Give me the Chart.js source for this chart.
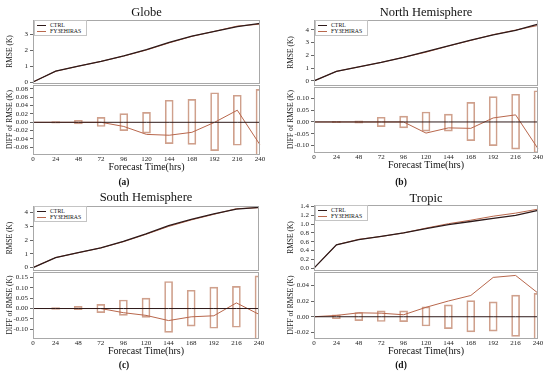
<!DOCTYPE html>
<html>
<head>
<meta charset="utf-8">
<script src="https://cdn.jsdelivr.net/npm/chart.js@4.4.1/dist/chart.umd.min.js"></script>
<style>
  body { margin: 0; width: 550px; height: 377px; background: #fff; position: relative; overflow: hidden;
         font-family: 'Liberation Serif', 'Times New Roman', serif; color: #111; }
  canvas { position: absolute; }
  .ttl { position: absolute; font-size: 12.5px; transform: translate(-50%, -50%); white-space: nowrap; }
  .tag { position: absolute; font-size: 9.5px; font-weight: bold; transform: translate(-50%, -50%); }
  .lgd { position: absolute; border: 1px solid #c4c4c4; background: #fff; font-size: 5.8px; line-height: 6px;
         padding: 1px 5px 1px 2px; white-space: nowrap; color: #111; }
  .lgd i { display: inline-block; width: 9px; border-top: 1px solid; vertical-align: middle; margin-right: 4px; }
</style>
</head>
<body>
<script>
const FONT = "'Liberation Serif', 'Times New Roman', serif";
const CTRL_COLOR = '#2e1a1a';
const FY_COLOR = '#b8674c';
const BOX_COLOR = '#cfa08c';

// Data
const hours = ['0', '24', '48', '72', '96', '120', '144', '168', '192', '216', '240'];
const zeroDiff = [0, 0, 0, 0, 0, 0, 0, 0, 0, 0, 0];

// Globe
const globeCtrl = [0, 0.68, 1.0, 1.3, 1.65, 2.05, 2.5, 2.9, 3.2, 3.5, 3.7];
const globeFy3e = [0, 0.68, 1.0, 1.3, 1.64, 2.02, 2.47, 2.88, 3.2, 3.53, 3.65];
const globeDiff = [0, 0, 0, 0, -0.01, -0.029, -0.031, -0.024, 0.0, 0.029, -0.054];
const globeBoxLo = [null, -0.002, -0.004, -0.01, -0.02, -0.026, -0.051, -0.053, -0.068, -0.055, -0.08];
const globeBoxHi = [null, 0.002, 0.005, 0.012, 0.021, 0.024, 0.053, 0.055, 0.071, 0.065, 0.079];
const globeRmseTicks = [0, 1, 2, 3];
const globeDiffTicks = [-0.06, -0.04, -0.02, 0, 0.02, 0.04, 0.06, 0.08];

// North Hemisphere
const northCtrl = [0, 0.75, 1.1, 1.45, 1.85, 2.3, 2.75, 3.2, 3.6, 3.95, 4.45];
const northFy3e = [0, 0.75, 1.1, 1.45, 1.85, 2.25, 2.73, 3.17, 3.62, 3.98, 4.34];
const northDiff = [0, 0, 0, 0, 0, -0.047, -0.025, -0.027, 0.017, 0.03, -0.113];
const northBoxLo = [null, -0.003, -0.005, -0.02, -0.025, -0.039, -0.039, -0.079, -0.1, -0.115, -0.13];
const northBoxHi = [null, 0.003, 0.005, 0.02, 0.025, 0.042, 0.033, 0.083, 0.107, 0.117, 0.132];
const northRmseTicks = [0, 1, 2, 3, 4];
const northDiffTicks = [-0.10, -0.05, 0, 0.05, 0.10];

// South Hemisphere
const southCtrl = [0, 0.73, 1.08, 1.43, 1.9, 2.45, 3.05, 3.5, 3.9, 4.25, 4.38];
const southFy3e = [0, 0.73, 1.08, 1.43, 1.88, 2.42, 2.99, 3.46, 3.87, 4.28, 4.35];
const southDiff = [0, 0, 0, 0, -0.02, -0.033, -0.058, -0.04, -0.035, 0.027, -0.028];
const southBoxLo = [null, -0.004, -0.006, -0.02, -0.033, -0.043, -0.115, -0.085, -0.095, -0.09, -0.16];
const southBoxHi = [null, 0.004, 0.01, 0.02, 0.041, 0.05, 0.13, 0.088, 0.103, 0.107, 0.157];
const southRmseTicks = [0, 1, 2, 3, 4];
const southDiffTicks = [-0.10, -0.05, 0, 0.05, 0.10, 0.15];

// Tropic
const tropicCtrl = [0, 0.53, 0.65, 0.72, 0.8, 0.9, 0.99, 1.06, 1.13, 1.2, 1.31];
const tropicFy3e = [0, 0.53, 0.655, 0.72, 0.8, 0.91, 1.01, 1.09, 1.18, 1.25, 1.34];
const tropicDiff = [0, 0.0017, 0.005, 0.0045, 0.0025, 0.012, 0.02, 0.027, 0.05, 0.0525, 0.03];
const tropicBoxLo = [null, -0.0025, -0.005, -0.006, -0.0062, -0.0117, -0.015, -0.0192, -0.0183, -0.025, -0.03];
const tropicBoxHi = [null, 0.0025, 0.0054, 0.0075, 0.0075, 0.0125, 0.015, 0.0204, 0.0188, 0.0275, 0.0296];
const tropicRmseTicks = [0, 0.2, 0.4, 0.6, 0.8, 1.0, 1.2, 1.4];
const tropicDiffTicks = [-0.02, 0, 0.02, 0.04];

// layout of the four panels (page pixels)
const panels = [
  { tag: '(a)', title: 'Globe', left: 33, right: 260, top: 19, split: 84, bottom: 154, titleY: 12, tagX: 124, tagY: 182,
    ctrl: globeCtrl, fy3e: globeFy3e, diff: globeDiff, lo: globeBoxLo, hi: globeBoxHi,
    rmseMin: -0.05, rmseMax: 3.9, rmseTicks: globeRmseTicks, rmseDec: 0,
    diffMin: -0.076, diffMax: 0.089, diffTicks: globeDiffTicks },
  { tag: '(b)', title: 'North Hemisphere', left: 314, right: 538, top: 19, split: 86, bottom: 152, titleY: 12, tagX: 401, tagY: 182,
    ctrl: northCtrl, fy3e: northFy3e, diff: northDiff, lo: northBoxLo, hi: northBoxHi,
    rmseMin: -0.3, rmseMax: 4.75, rmseTicks: northRmseTicks, rmseDec: 0,
    diffMin: -0.127, diffMax: 0.147, diffTicks: northDiffTicks },
  { tag: '(c)', title: 'South Hemisphere', left: 33, right: 259, top: 205, split: 271, bottom: 338, titleY: 197, tagX: 124, tagY: 365,
    ctrl: southCtrl, fy3e: southFy3e, diff: southDiff, lo: southBoxLo, hi: southBoxHi,
    rmseMin: -0.16, rmseMax: 4.46, rmseTicks: southRmseTicks, rmseDec: 0,
    diffMin: -0.142, diffMax: 0.175, diffTicks: southDiffTicks },
  { tag: '(d)', title: 'Tropic', left: 314, right: 538, top: 204, split: 271, bottom: 338, titleY: 198, tagX: 401, tagY: 365,
    ctrl: tropicCtrl, fy3e: tropicFy3e, diff: tropicDiff, lo: tropicBoxLo, hi: tropicBoxHi,
    rmseMin: -0.037, rmseMax: 1.43, rmseTicks: tropicRmseTicks, rmseDec: 1,
    diffMin: -0.027, diffMax: 0.0566, diffTicks: tropicDiffTicks }
];

const AXIS_W = 33, PAD_R = 8, X_AXIS_H = 19;

// gray box round each plot area
const frame = {
  id: 'frame',
  afterDraw(chart) {
    const { ctx, chartArea: a } = chart;
    ctx.save();
    ctx.strokeStyle = '#a8a8a8';
    ctx.lineWidth = 1;
    ctx.strokeRect(Math.round(a.left) + 0.5, Math.round(a.top) + 0.5,
      Math.round(a.right - a.left) - 1, Math.round(a.bottom - a.top));
    ctx.restore();
  }
};

function addCanvas(x, y, w, h) {
  const c = document.createElement('canvas');
  c.width = w; c.height = h;
  c.style.left = x + 'px'; c.style.top = y + 'px';
  document.body.appendChild(c);
  return c;
}

function addDiv(cls, x, y, html) {
  const d = document.createElement('div');
  d.className = cls;
  d.style.left = x + 'px'; d.style.top = y + 'px';
  d.innerHTML = html;
  document.body.appendChild(d);
  return d;
}

function yAxis(min, max, ticks, dec, title) {
  return {
    min, max,
    afterFit: s => { s.width = AXIS_W; },
    afterBuildTicks: s => { s.ticks = ticks.map(v => ({ value: v })); },
    ticks: { font: { family: FONT, size: 7 }, color: '#222', padding: 2, autoSkip: false,
             callback: v => Number(v).toFixed(dec) },
    grid: { display: true, drawOnChartArea: false, drawTicks: true, tickLength: 3, color: '#666' },
    border: { display: false },
    title: { display: true, text: title, font: { family: FONT, size: 7.5 }, color: '#222', padding: { top: 6, bottom: 0 } }
  };
}

panels.forEach(p => {
  const w = AXIS_W + (p.right - p.left) + PAD_R;
  const x0 = p.left - AXIS_W;

  // RMSE plot
  const c1 = addCanvas(x0, p.top - 5, w, p.split - p.top + 10);
  new Chart(c1, {
    type: 'line',
    data: {
      labels: hours,
      datasets: [
        { label: 'CTRL', data: p.ctrl, borderColor: CTRL_COLOR, borderWidth: 1.3, pointRadius: 0, tension: 0, order: 0 },
        { label: 'FY3EHIRAS', data: p.fy3e, borderColor: FY_COLOR, borderWidth: 1, pointRadius: 0, tension: 0, order: 1 }
      ]
    },
    options: {
      responsive: false, animation: false, devicePixelRatio: 1,
      layout: { padding: { top: 5, bottom: 5, left: 0, right: PAD_R } },
      plugins: { legend: { display: false }, tooltip: { enabled: false } },
      scales: {
        x: { display: false, offset: false },
        y: yAxis(p.rmseMin, p.rmseMax, p.rmseTicks, p.rmseDec, 'RMSE (K)')
      }
    },
    plugins: [frame]
  });

  // DIFF plot
  const boxes = p.lo.map((l, i) => (l === null ? null : [l, p.hi[i]]));
  const c2 = addCanvas(x0, p.split - 5, w, 5 + (p.bottom - p.split) + X_AXIS_H);
  new Chart(c2, {
    type: 'bar',
    data: {
      labels: hours,
      datasets: [
        { type: 'line', data: zeroDiff, borderColor: CTRL_COLOR, borderWidth: 1, pointRadius: 0, tension: 0, order: 0 },
        { type: 'line', data: p.diff, borderColor: FY_COLOR, borderWidth: 1, pointRadius: 0, tension: 0, order: 1 },
        { type: 'bar', data: boxes, backgroundColor: 'rgba(255,255,255,0)', borderColor: BOX_COLOR,
          borderWidth: 1, borderSkipped: false, barThickness: 8, order: 2 }
      ]
    },
    options: {
      responsive: false, animation: false, devicePixelRatio: 1,
      layout: { padding: { top: 5, bottom: 0, left: 0, right: PAD_R } },
      plugins: { legend: { display: false }, tooltip: { enabled: false } },
      scales: {
        x: {
          offset: false,
          afterFit: s => { s.height = X_AXIS_H; },
          grid: { display: false, drawTicks: false, offset: false },
          border: { display: false },
          ticks: { font: { family: FONT, size: 7 }, color: '#222', padding: 1, maxRotation: 0, autoSkip: false },
          title: { display: true, text: 'Forecast Time(hrs)', font: { family: FONT, size: 10 }, color: '#111', padding: 0 }
        },
        y: yAxis(p.diffMin, p.diffMax, p.diffTicks, 2, 'DIFF of RMSE (K)')
      }
    },
    plugins: [frame]
  });

  addDiv('ttl', (p.left + p.right) / 2, p.titleY, p.title);
  addDiv('tag', p.tagX, p.tagY, p.tag);
  addDiv('lgd', p.left + 1, p.top + 1,
    `<i style="border-color:${CTRL_COLOR}"></i>CTRL<br><i style="border-color:${FY_COLOR}"></i>FY3EHIRAS`);
});
</script>
</body>
</html>
